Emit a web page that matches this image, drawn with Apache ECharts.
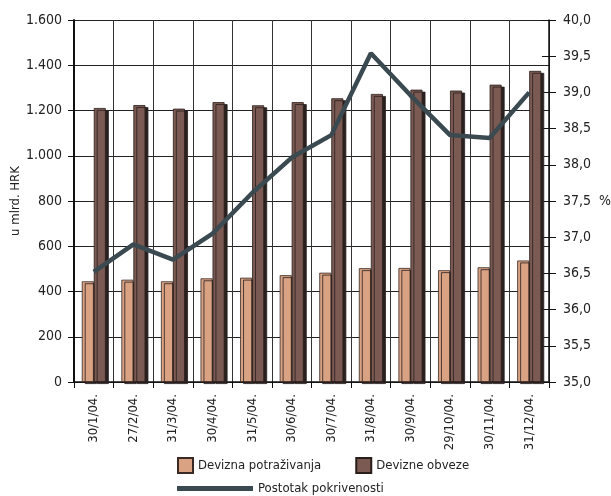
<!DOCTYPE html>
<html><head><meta charset="utf-8">
<script src="https://cdn.jsdelivr.net/npm/echarts@6/dist/echarts.min.js"></script>
<style>html,body{margin:0;padding:0;background:#fff}#c{width:611px;height:496px}</style>
</head><body><div id="c"></div>
<script>
var categories = ['30/1/04.','27/2/04.','31/3/04.','30/4/04.','31/5/04.','30/6/04.','30/7/04.','31/8/04.','30/9/04.','29/10/04.','30/11/04.','31/12/04.'];
var potrazivanja = [445, 452, 445, 458, 461, 472, 483, 503, 504, 494, 507, 537];
var obveze = [1211, 1224, 1208, 1237, 1223, 1237, 1254, 1273, 1292, 1288, 1314, 1375];
var pokrivenost = [36.52, 36.90, 36.69, 37.05, 37.61, 38.10, 38.41, 39.54, 38.96, 38.41, 38.37, 39.00];
var leftTicks = {min: 0, max: 1600, interval: 200};
var rightTicks = {min: 35, max: 40, interval: 0.5};

var FONT = "'Liberation Sans Narrow','Arial Narrow','DejaVu Sans Condensed',sans-serif";
var chart = echarts.init(document.getElementById('c'));
chart.setOption({
  animation: false,
  textStyle: {fontFamily: FONT},
  grid: {left: 74, right: 62, top: 20, bottom: 114, outerBoundsMode: 'none', containLabel: false},
  legend: [{
    data: ['Devizna potraživanja', 'Devizne obveze'],
    left: 172, top: 452, itemWidth: 15, itemHeight: 15, itemGap: 34, icon: 'rect',
    textStyle: {fontFamily: FONT, fontSize: 13, color: '#222'}
  }, {
    data: ['Postotak pokrivenosti'],
    left: 172, top: 477, itemWidth: 76, itemHeight: 5, icon: 'rect',
    textStyle: {fontFamily: FONT, fontSize: 13, color: '#222'}
  }],
  xAxis: {
    type: 'category', data: categories, boundaryGap: true,
    axisLine: {show: true, lineStyle: {color: '#111', width: 1.5}},
    axisTick: {show: true, length: 6, lineStyle: {color: '#111'}},
    axisLabel: {rotate: 90, fontSize: 13, color: '#222', margin: 12, fontFamily: FONT},
    splitLine: {show: true, lineStyle: {color: '#333', width: 1}}
  },
  yAxis: [{
    type: 'value', min: leftTicks.min, max: leftTicks.max, interval: leftTicks.interval,
    name: 'u mlrd. HRK', nameLocation: 'middle', nameGap: 52, nameRotate: 90, nameMoveOverlap: false,
    nameTextStyle: {fontFamily: FONT, fontSize: 13, color: '#222'},
    axisLine: {show: true, lineStyle: {color: '#111', width: 2}},
    axisTick: {show: true, length: 6, lineStyle: {color: '#111'}},
    axisLabel: {fontSize: 14, color: '#222', margin: 12, fontFamily: FONT,
      formatter: function(v){ return String(v).replace(/\B(?=(\d{3})+(?!\d))/g, '.'); }},
    splitLine: {show: true, lineStyle: {color: '#222', width: 1}}
  }, {
    type: 'value', position: 'right', min: rightTicks.min, max: rightTicks.max, interval: rightTicks.interval,
    name: '%', nameLocation: 'middle', nameGap: 50, nameRotate: 0, nameMoveOverlap: false,
    nameTextStyle: {fontFamily: FONT, fontSize: 14, color: '#222'},
    axisLine: {show: true, lineStyle: {color: '#111', width: 1.5}},
    axisTick: {show: true, length: 7, lineStyle: {color: '#111'}},
    axisLabel: {fontSize: 14, color: '#222', margin: 14, fontFamily: FONT,
      formatter: function(v){ return v.toFixed(1).replace('.', ','); }},
    splitLine: {show: false}
  }, {
    type: 'value', position: 'right', min: rightTicks.min, max: rightTicks.max, interval: rightTicks.interval,
    axisLine: {show: false},
    axisTick: {show: true, inside: true, length: 7, lineStyle: {color: '#111'}},
    axisLabel: {show: false}, splitLine: {show: false}
  }],
  series: [{
    name: 'Devizna potraživanja', type: 'bar', data: potrazivanja, barWidth: 12, barGap: '0%',
    itemStyle: {color: '#D8A283', borderColor: '#3a2a25', borderWidth: 0.8,
      shadowColor: '#2a2020', shadowBlur: 0, shadowOffsetX: 3, shadowOffsetY: 2}
  }, {
    name: 'Devizne obveze', type: 'bar', data: obveze, barWidth: 12,
    itemStyle: {color: '#7A5A52', borderColor: '#2a1e1a', borderWidth: 0.8,
      shadowColor: '#2a2020', shadowBlur: 0, shadowOffsetX: 3, shadowOffsetY: 2}
  }, {
    name: 'Postotak pokrivenosti', type: 'line', yAxisIndex: 1, data: pokrivenost,
    symbol: 'none', lineStyle: {color: '#3B4A50', width: 4.5}, itemStyle: {color: '#3B4A50'}, z: 5
  }]
});
</script></body></html>
